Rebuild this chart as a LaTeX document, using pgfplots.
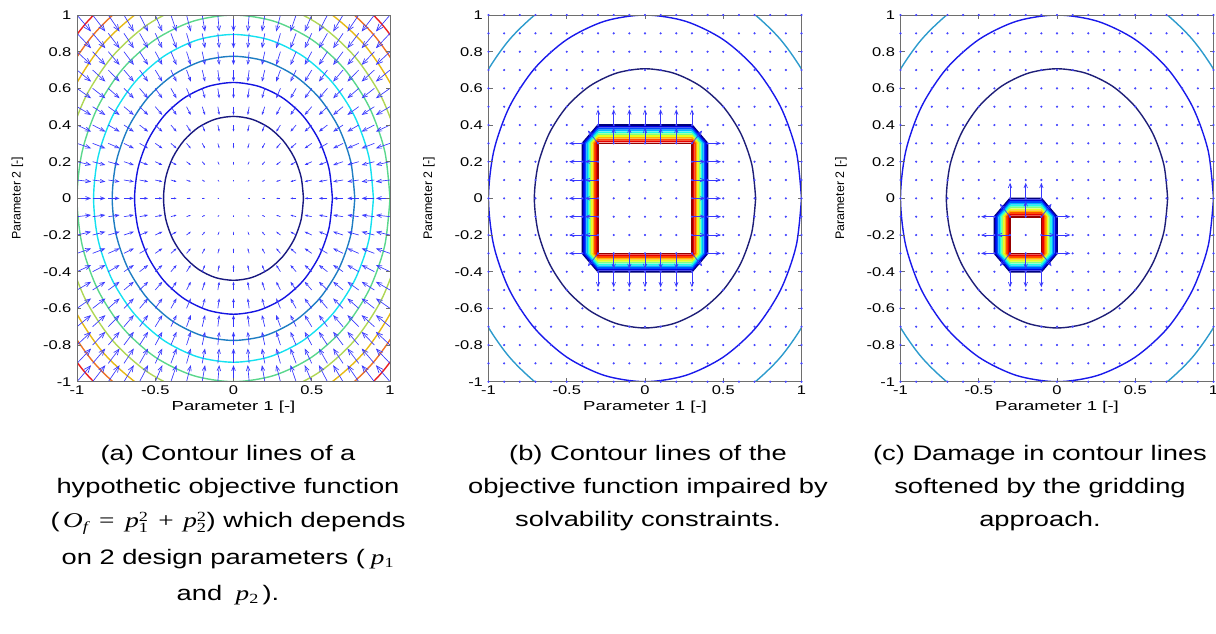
\documentclass[border=0pt]{standalone}
\usepackage{fontspec}
\usepackage{pgfplots}
\usepackage{pgfplotstable}
\pgfplotsset{compat=1.18}
\usetikzlibrary{arrows.meta}
\setmainfont{Liberation Sans}
\newfontfamily\tickf[FakeStretch=1.3]{Liberation Sans}
\newfontfamily\xlabf[FakeStretch=1.42]{Liberation Sans}
\newfontfamily\capf[FakeStretch=1.3]{Liberation Sans}
\newfontfamily\tms[FakeStretch=1.3]{Liberation Serif}

\definecolor{qcol}{RGB}{55,55,255}
\definecolor{dotcol}{RGB}{70,70,255}
\definecolor{axcol}{RGB}{110,110,110}
\definecolor{ca1}{RGB}{25,25,128}
\definecolor{ca2}{RGB}{20,20,225}
\definecolor{ca3}{RGB}{30,125,195}
\definecolor{ca4}{RGB}{20,225,240}
\definecolor{ca5}{RGB}{90,215,140}
\definecolor{ca6}{RGB}{175,215,85}
\definecolor{ca7}{RGB}{230,185,20}
\definecolor{ca8}{RGB}{238,115,35}
\definecolor{ca9}{RGB}{235,30,30}
\definecolor{cb1}{RGB}{30,30,120}
\definecolor{cb2}{RGB}{25,25,235}
\definecolor{cb3}{RGB}{45,155,205}
\definecolor{j0}{RGB}{0,0,128}
\definecolor{j1}{RGB}{0,0,230}
\definecolor{j2}{RGB}{0,77,255}
\definecolor{j3}{RGB}{0,179,255}
\definecolor{j4}{RGB}{26,255,230}
\definecolor{j5}{RGB}{128,255,128}
\definecolor{j6}{RGB}{230,255,26}
\definecolor{j7}{RGB}{255,179,0}
\definecolor{j8}{RGB}{255,77,0}
\definecolor{j9}{RGB}{230,0,0}
\definecolor{j10}{RGB}{150,0,0}

\pgfplotstableread[row sep=\\]{
x y\\
-1 -1\\-1 -0.9\\-1 -0.8\\-1 -0.7\\-1 -0.6\\-1 -0.5\\-1 -0.4\\-1 -0.3\\-1 -0.2\\-1 -0.1\\-1 0\\-1 0.1\\-1 0.2\\-1 0.3\\-1 0.4\\-1 0.5\\-1 0.6\\-1 0.7\\-1 0.8\\-1 0.9\\-1 1\\
-0.9 -1\\-0.9 -0.9\\-0.9 -0.8\\-0.9 -0.7\\-0.9 -0.6\\-0.9 -0.5\\-0.9 -0.4\\-0.9 -0.3\\-0.9 -0.2\\-0.9 -0.1\\-0.9 0\\-0.9 0.1\\-0.9 0.2\\-0.9 0.3\\-0.9 0.4\\-0.9 0.5\\-0.9 0.6\\-0.9 0.7\\-0.9 0.8\\-0.9 0.9\\-0.9 1\\
-0.8 -1\\-0.8 -0.9\\-0.8 -0.8\\-0.8 -0.7\\-0.8 -0.6\\-0.8 -0.5\\-0.8 -0.4\\-0.8 -0.3\\-0.8 -0.2\\-0.8 -0.1\\-0.8 0\\-0.8 0.1\\-0.8 0.2\\-0.8 0.3\\-0.8 0.4\\-0.8 0.5\\-0.8 0.6\\-0.8 0.7\\-0.8 0.8\\-0.8 0.9\\-0.8 1\\
-0.7 -1\\-0.7 -0.9\\-0.7 -0.8\\-0.7 -0.7\\-0.7 -0.6\\-0.7 -0.5\\-0.7 -0.4\\-0.7 -0.3\\-0.7 -0.2\\-0.7 -0.1\\-0.7 0\\-0.7 0.1\\-0.7 0.2\\-0.7 0.3\\-0.7 0.4\\-0.7 0.5\\-0.7 0.6\\-0.7 0.7\\-0.7 0.8\\-0.7 0.9\\-0.7 1\\
-0.6 -1\\-0.6 -0.9\\-0.6 -0.8\\-0.6 -0.7\\-0.6 -0.6\\-0.6 -0.5\\-0.6 -0.4\\-0.6 -0.3\\-0.6 -0.2\\-0.6 -0.1\\-0.6 0\\-0.6 0.1\\-0.6 0.2\\-0.6 0.3\\-0.6 0.4\\-0.6 0.5\\-0.6 0.6\\-0.6 0.7\\-0.6 0.8\\-0.6 0.9\\-0.6 1\\
-0.5 -1\\-0.5 -0.9\\-0.5 -0.8\\-0.5 -0.7\\-0.5 -0.6\\-0.5 -0.5\\-0.5 -0.4\\-0.5 -0.3\\-0.5 -0.2\\-0.5 -0.1\\-0.5 0\\-0.5 0.1\\-0.5 0.2\\-0.5 0.3\\-0.5 0.4\\-0.5 0.5\\-0.5 0.6\\-0.5 0.7\\-0.5 0.8\\-0.5 0.9\\-0.5 1\\
-0.4 -1\\-0.4 -0.9\\-0.4 -0.8\\-0.4 -0.7\\-0.4 -0.6\\-0.4 -0.5\\-0.4 -0.4\\-0.4 -0.3\\-0.4 -0.2\\-0.4 -0.1\\-0.4 0\\-0.4 0.1\\-0.4 0.2\\-0.4 0.3\\-0.4 0.4\\-0.4 0.5\\-0.4 0.6\\-0.4 0.7\\-0.4 0.8\\-0.4 0.9\\-0.4 1\\
-0.3 -1\\-0.3 -0.9\\-0.3 -0.8\\-0.3 -0.7\\-0.3 -0.6\\-0.3 -0.5\\-0.3 -0.4\\-0.3 -0.3\\-0.3 -0.2\\-0.3 -0.1\\-0.3 0\\-0.3 0.1\\-0.3 0.2\\-0.3 0.3\\-0.3 0.4\\-0.3 0.5\\-0.3 0.6\\-0.3 0.7\\-0.3 0.8\\-0.3 0.9\\-0.3 1\\
-0.2 -1\\-0.2 -0.9\\-0.2 -0.8\\-0.2 -0.7\\-0.2 -0.6\\-0.2 -0.5\\-0.2 -0.4\\-0.2 -0.3\\-0.2 -0.2\\-0.2 -0.1\\-0.2 0\\-0.2 0.1\\-0.2 0.2\\-0.2 0.3\\-0.2 0.4\\-0.2 0.5\\-0.2 0.6\\-0.2 0.7\\-0.2 0.8\\-0.2 0.9\\-0.2 1\\
-0.1 -1\\-0.1 -0.9\\-0.1 -0.8\\-0.1 -0.7\\-0.1 -0.6\\-0.1 -0.5\\-0.1 -0.4\\-0.1 -0.3\\-0.1 -0.2\\-0.1 -0.1\\-0.1 0\\-0.1 0.1\\-0.1 0.2\\-0.1 0.3\\-0.1 0.4\\-0.1 0.5\\-0.1 0.6\\-0.1 0.7\\-0.1 0.8\\-0.1 0.9\\-0.1 1\\
0 -1\\0 -0.9\\0 -0.8\\0 -0.7\\0 -0.6\\0 -0.5\\0 -0.4\\0 -0.3\\0 -0.2\\0 -0.1\\0 0\\0 0.1\\0 0.2\\0 0.3\\0 0.4\\0 0.5\\0 0.6\\0 0.7\\0 0.8\\0 0.9\\0 1\\
0.1 -1\\0.1 -0.9\\0.1 -0.8\\0.1 -0.7\\0.1 -0.6\\0.1 -0.5\\0.1 -0.4\\0.1 -0.3\\0.1 -0.2\\0.1 -0.1\\0.1 0\\0.1 0.1\\0.1 0.2\\0.1 0.3\\0.1 0.4\\0.1 0.5\\0.1 0.6\\0.1 0.7\\0.1 0.8\\0.1 0.9\\0.1 1\\
0.2 -1\\0.2 -0.9\\0.2 -0.8\\0.2 -0.7\\0.2 -0.6\\0.2 -0.5\\0.2 -0.4\\0.2 -0.3\\0.2 -0.2\\0.2 -0.1\\0.2 0\\0.2 0.1\\0.2 0.2\\0.2 0.3\\0.2 0.4\\0.2 0.5\\0.2 0.6\\0.2 0.7\\0.2 0.8\\0.2 0.9\\0.2 1\\
0.3 -1\\0.3 -0.9\\0.3 -0.8\\0.3 -0.7\\0.3 -0.6\\0.3 -0.5\\0.3 -0.4\\0.3 -0.3\\0.3 -0.2\\0.3 -0.1\\0.3 0\\0.3 0.1\\0.3 0.2\\0.3 0.3\\0.3 0.4\\0.3 0.5\\0.3 0.6\\0.3 0.7\\0.3 0.8\\0.3 0.9\\0.3 1\\
0.4 -1\\0.4 -0.9\\0.4 -0.8\\0.4 -0.7\\0.4 -0.6\\0.4 -0.5\\0.4 -0.4\\0.4 -0.3\\0.4 -0.2\\0.4 -0.1\\0.4 0\\0.4 0.1\\0.4 0.2\\0.4 0.3\\0.4 0.4\\0.4 0.5\\0.4 0.6\\0.4 0.7\\0.4 0.8\\0.4 0.9\\0.4 1\\
0.5 -1\\0.5 -0.9\\0.5 -0.8\\0.5 -0.7\\0.5 -0.6\\0.5 -0.5\\0.5 -0.4\\0.5 -0.3\\0.5 -0.2\\0.5 -0.1\\0.5 0\\0.5 0.1\\0.5 0.2\\0.5 0.3\\0.5 0.4\\0.5 0.5\\0.5 0.6\\0.5 0.7\\0.5 0.8\\0.5 0.9\\0.5 1\\
0.6 -1\\0.6 -0.9\\0.6 -0.8\\0.6 -0.7\\0.6 -0.6\\0.6 -0.5\\0.6 -0.4\\0.6 -0.3\\0.6 -0.2\\0.6 -0.1\\0.6 0\\0.6 0.1\\0.6 0.2\\0.6 0.3\\0.6 0.4\\0.6 0.5\\0.6 0.6\\0.6 0.7\\0.6 0.8\\0.6 0.9\\0.6 1\\
0.7 -1\\0.7 -0.9\\0.7 -0.8\\0.7 -0.7\\0.7 -0.6\\0.7 -0.5\\0.7 -0.4\\0.7 -0.3\\0.7 -0.2\\0.7 -0.1\\0.7 0\\0.7 0.1\\0.7 0.2\\0.7 0.3\\0.7 0.4\\0.7 0.5\\0.7 0.6\\0.7 0.7\\0.7 0.8\\0.7 0.9\\0.7 1\\
0.8 -1\\0.8 -0.9\\0.8 -0.8\\0.8 -0.7\\0.8 -0.6\\0.8 -0.5\\0.8 -0.4\\0.8 -0.3\\0.8 -0.2\\0.8 -0.1\\0.8 0\\0.8 0.1\\0.8 0.2\\0.8 0.3\\0.8 0.4\\0.8 0.5\\0.8 0.6\\0.8 0.7\\0.8 0.8\\0.8 0.9\\0.8 1\\
0.9 -1\\0.9 -0.9\\0.9 -0.8\\0.9 -0.7\\0.9 -0.6\\0.9 -0.5\\0.9 -0.4\\0.9 -0.3\\0.9 -0.2\\0.9 -0.1\\0.9 0\\0.9 0.1\\0.9 0.2\\0.9 0.3\\0.9 0.4\\0.9 0.5\\0.9 0.6\\0.9 0.7\\0.9 0.8\\0.9 0.9\\0.9 1\\
1 -1\\1 -0.9\\1 -0.8\\1 -0.7\\1 -0.6\\1 -0.5\\1 -0.4\\1 -0.3\\1 -0.2\\1 -0.1\\1 0\\1 0.1\\1 0.2\\1 0.3\\1 0.4\\1 0.5\\1 0.6\\1 0.7\\1 0.8\\1 0.9\\1 1\\
}\gridtab

\pgfplotstableread{
x y u v
-0.3 0.4 0 0.085
-0.2 0.4 0 0.085
-0.1 0.4 0 0.085
0 0.4 0 0.085
0.1 0.4 0 0.085
0.2 0.4 0 0.085
0.3 0.4 0 0.085
-0.2 0.3 0 0.085
-0.1 0.3 0 0.085
0 0.3 0 0.085
0.1 0.3 0 0.085
0.2 0.3 0 0.085
-0.3 -0.4 0 -0.085
-0.2 -0.4 0 -0.085
-0.1 -0.4 0 -0.085
0 -0.4 0 -0.085
0.1 -0.4 0 -0.085
0.2 -0.4 0 -0.085
0.3 -0.4 0 -0.085
-0.2 -0.3 0 -0.085
-0.1 -0.3 0 -0.085
0 -0.3 0 -0.085
0.1 -0.3 0 -0.085
0.2 -0.3 0 -0.085
-0.4 -0.3 -0.085 0
-0.4 -0.2 -0.085 0
-0.4 -0.1 -0.085 0
-0.4 0 -0.085 0
-0.4 0.1 -0.085 0
-0.4 0.2 -0.085 0
-0.4 0.3 -0.085 0
-0.3 -0.2 -0.085 0
-0.3 -0.1 -0.085 0
-0.3 0 -0.085 0
-0.3 0.1 -0.085 0
-0.3 0.2 -0.085 0
0.4 -0.3 0.085 0
0.4 -0.2 0.085 0
0.4 -0.1 0.085 0
0.4 0 0.085 0
0.4 0.1 0.085 0
0.4 0.2 0.085 0
0.4 0.3 0.085 0
0.3 -0.2 0.085 0
0.3 -0.1 0.085 0
0.3 0 0.085 0
0.3 0.1 0.085 0
0.3 0.2 0.085 0
-0.3 0.3 -0.065 0.07
0.3 0.3 0.065 0.07
0.3 -0.3 0.065 -0.07
-0.3 -0.3 -0.065 -0.07
}\bq

\pgfplotstableread{
x y u v
-0.3 0 0 0.085
-0.2 0 0 0.085
-0.1 0 0 0.085
-0.2 -0.1 0 0.085
-0.3 -0.4 0 -0.085
-0.2 -0.4 0 -0.085
-0.1 -0.4 0 -0.085
-0.2 -0.3 0 -0.085
-0.4 -0.3 -0.085 0
-0.4 -0.2 -0.085 0
-0.4 -0.1 -0.085 0
-0.3 -0.2 -0.085 0
0 -0.3 0.085 0
0 -0.2 0.085 0
0 -0.1 0.085 0
-0.1 -0.2 0.085 0
-0.3 -0.1 -0.065 0.07
-0.1 -0.1 0.065 0.07
-0.1 -0.3 0.065 -0.07
-0.3 -0.3 -0.065 -0.07
}\cq

% circle through 24 points: r, r cos15, r cos30, r cos45, r sin30, r sin15
\newcommand\circl[7]{\addplot[#7, line width=1.05pt, smooth] coordinates {(#1,0)(#2,#6)(#3,#5)(#4,#4)(#5,#3)(#6,#2)(0,#1)(-#6,#2)(-#5,#3)(-#4,#4)(-#3,#5)(-#2,#6)(-#1,0)(-#2,-#6)(-#3,-#5)(-#4,-#4)(-#5,-#3)(-#6,-#2)(0,-#1)(#6,-#2)(#5,-#3)(#4,-#4)(#3,-#5)(#2,-#6)(#1,0)};}
\newcommand\octb[2]{\addplot[#2, line width=1.25pt] coordinates {(-0.3,#1)(0.3,#1)(#1,0.3)(#1,-0.3)(0.3,-#1)(-0.3,-#1)(-#1,-0.3)(-#1,0.3)(-0.3,#1)};}
\newcommand\octc[3]{\addplot[#3, line width=1.25pt] coordinates {(-0.3,#1)(-0.1,#1)(#1,-0.1)(#1,-0.3)(-0.1,#2)(-0.3,#2)(#2,-0.3)(#2,-0.1)(-0.3,#1)};}

\newcommand\mi[1]{\hbox{\tms\itshape #1}}
\newcommand\ssz[1]{\hbox{\fontsize{10.5pt}{11pt}\selectfont\tms #1}}

\pgfplotsset{panel/.style={
  scale only axis, width=234.75pt, height=275pt,
  xmin=-1, xmax=1, ymin=-1, ymax=1,
  xtick={-1,-0.5,0,0.5,1}, xticklabels={-1,-0.5,0,0.5,1},
  ytick={-1,-0.8,-0.6,-0.4,-0.2,0,0.2,0.4,0.6,0.8,1},
  yticklabels={-1,-0.8,-0.6,-0.4,-0.2,0,0.2,0.4,0.6,0.8,1},
  tick align=inside, major tick length=3pt,
  xtick pos=both, ytick pos=both,
  xticklabel pos=lower, yticklabel pos=left,
  axis line style={axcol, line width=0.6pt},
  tick style={axcol, line width=0.6pt},
  tick label style={font=\tickf\fontsize{9.5pt}{11pt}\selectfont, text=black},
  xticklabel style={inner sep=0pt, yshift=-2.5pt},
  yticklabel style={inner sep=0pt, xshift=-4pt},
  anchor=south west, axis on top,
}}

\begin{document}
\begin{tikzpicture}[x=0.75pt, y=0.75pt]
\path[use as bounding box] (0,0) rectangle (1216,634);
\coordinate (A) at (77,252.3);
\coordinate (B) at (488.5,252.3);
\coordinate (C) at (900.5,252.3);

% ---------- panel (a)
\begin{axis}[panel, at={(A)}]
\circl{0.447}{0.432}{0.387}{0.316}{0.224}{0.116}{ca1}
\circl{0.632}{0.610}{0.547}{0.447}{0.316}{0.164}{ca2}
\circl{0.775}{0.749}{0.671}{0.548}{0.388}{0.201}{ca3}
\circl{0.894}{0.864}{0.774}{0.632}{0.447}{0.231}{ca4}
\circl{1.0}{0.966}{0.866}{0.707}{0.5}{0.259}{ca5}
\circl{1.095}{1.058}{0.948}{0.774}{0.548}{0.283}{ca6}
\circl{1.183}{1.143}{1.024}{0.837}{0.592}{0.306}{ca7}
\circl{1.265}{1.222}{1.096}{0.894}{0.633}{0.327}{ca8}
\circl{1.342}{1.296}{1.162}{0.949}{0.671}{0.347}{ca9}
\addplot[qcol, line width=0.5pt,
  quiver={u={-0.09*(\thisrow{x})}, v={-0.09*(\thisrow{y})},
    every arrow/.append style={-{Straight Barb[length=5.2pt,width=4pt,scale length={max(0.08,\pgfplotspointmetatransformed/1000)},scale width={max(0.08,\pgfplotspointmetatransformed/1000)}]}}},
  point meta={sqrt((\thisrow{x})^2+(\thisrow{y})^2)},
  skip coords between index={220}{221}]
  table[x=x, y=y] \gridtab;
\end{axis}

% ---------- panel (b)
\begin{axis}[panel, at={(B)}]
\circl{0.707}{0.683}{0.612}{0.5}{0.354}{0.183}{cb1}
\circl{1.0}{0.966}{0.866}{0.707}{0.5}{0.259}{cb2}
\circl{1.225}{1.183}{1.061}{0.866}{0.613}{0.317}{cb3}
\octb{0.40}{j0}\octb{0.39}{j1}\octb{0.38}{j2}\octb{0.37}{j3}\octb{0.36}{j4}\octb{0.35}{j5}
\octb{0.34}{j6}\octb{0.33}{j7}\octb{0.32}{j8}\octb{0.31}{j9}\octb{0.30}{j10}
\addplot[only marks, mark=*, mark size=0.6pt, dotcol, mark options={draw=none}] table[x=x, y=y] \gridtab;
\addplot[qcol, line width=0.5pt, quiver={u=\thisrow{u}, v=\thisrow{v}}, -{Straight Barb[length=3.2pt,width=2.6pt]}] table[x=x, y=y] \bq;
\end{axis}

% ---------- panel (c)
\begin{axis}[panel, at={(C)}]
\circl{0.707}{0.683}{0.612}{0.5}{0.354}{0.183}{cb1}
\circl{1.0}{0.966}{0.866}{0.707}{0.5}{0.259}{cb2}
\circl{1.225}{1.183}{1.061}{0.866}{0.613}{0.317}{cb3}
\octc{0.00}{-0.40}{j0}\octc{-0.01}{-0.39}{j1}\octc{-0.02}{-0.38}{j2}\octc{-0.03}{-0.37}{j3}
\octc{-0.04}{-0.36}{j4}\octc{-0.05}{-0.35}{j5}\octc{-0.06}{-0.34}{j6}\octc{-0.07}{-0.33}{j7}
\octc{-0.08}{-0.32}{j8}\octc{-0.09}{-0.31}{j9}\octc{-0.10}{-0.30}{j10}
\addplot[only marks, mark=*, mark size=0.6pt, dotcol, mark options={draw=none}] table[x=x, y=y] \gridtab;
\addplot[qcol, line width=0.5pt, quiver={u=\thisrow{u}, v=\thisrow{v}}, -{Straight Barb[length=3.2pt,width=2.6pt]}] table[x=x, y=y] \cq;
\end{axis}

% ---------- axis labels
\begin{scope}[every node/.style={font=\fontsize{9.3pt}{10pt}\selectfont, rotate=90}]
\node at (17.5,435.7) {Parameter 2 [-]};
\node at (429,435.7) {Parameter 2 [-]};
\node at (841,435.7) {Parameter 2 [-]};
\end{scope}
\begin{scope}[every node/.style={font=\xlabf\fontsize{9.8pt}{11pt}\selectfont}]
\node at (233.5,227) {Parameter 1 [-]};
\node at (645,227) {Parameter 1 [-]};
\node at (1057,227) {Parameter 1 [-]};
\end{scope}

% ---------- captions
\begin{scope}[every node/.style={font=\capf\fontsize{15.75pt}{19pt}\selectfont, anchor=base, inner sep=0pt}]
\node at (228,173) {(a) Contour lines of a};
\node at (228,140) {hypothetic objective function};
\node at (228,106) {(\,$\mi{O}{}_{\ssz{\itshape f}}\;\mathrel{\hbox{\tms =}}\;\mi{p}{}_{\ssz{1}}^{\ssz{2}}\;\mathbin{\hbox{\tms +}}\;\mi{p}{}_{\ssz{2}}^{\ssz{2}}$) which depends};
\node at (228,69) {on 2 design parameters (\;$\mi{p}{}_{\ssz{1}}$};
\node at (228,33) {and \;$\mi{p}{}_{\ssz{2}}$\,).};
\node at (648,173) {(b) Contour lines of the};
\node at (648,140) {objective function impaired by};
\node at (648,107) {solvability constraints.};
\node at (1040,173) {(c) Damage in contour lines};
\node at (1040,140) {softened by the gridding};
\node at (1040,107) {approach.};
\end{scope}
\end{tikzpicture}
\end{document}
